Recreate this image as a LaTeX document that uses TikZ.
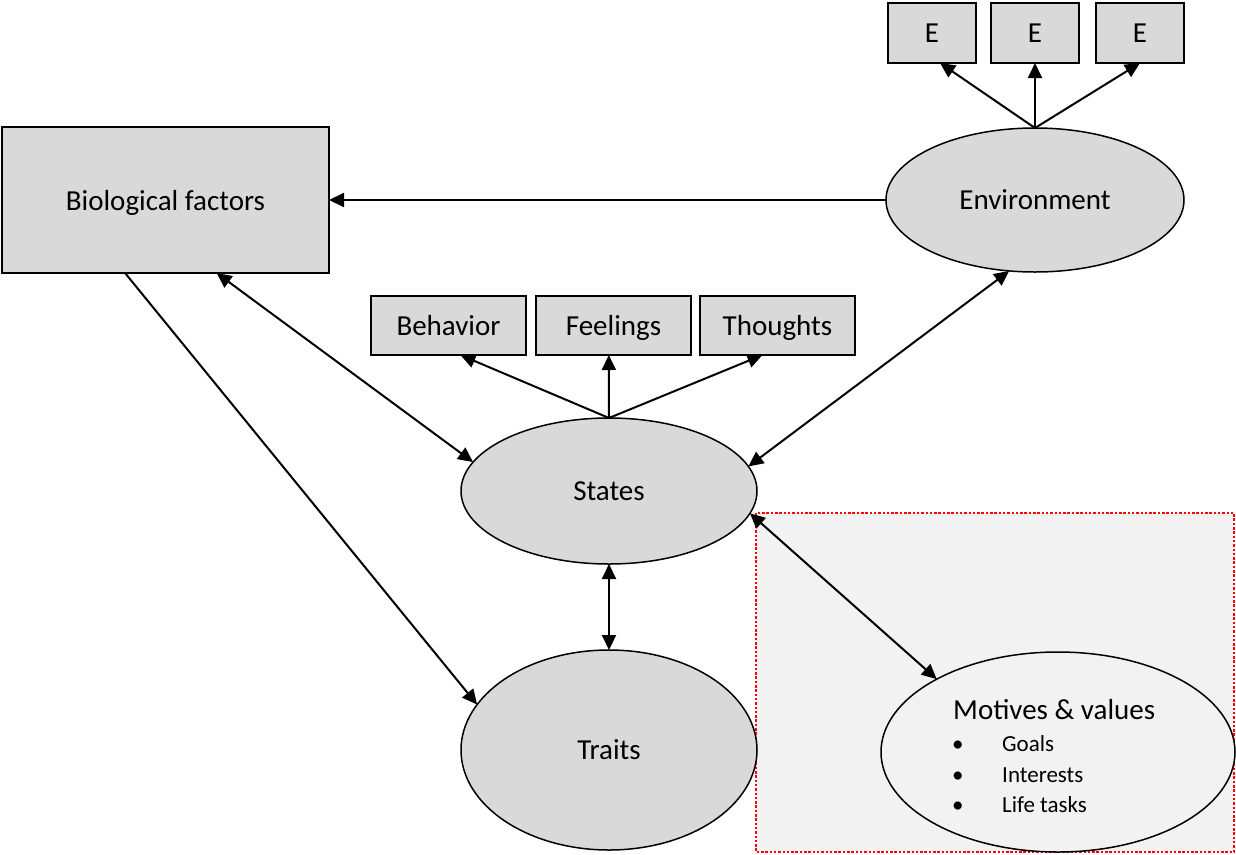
\documentclass[tikz,border=0pt]{standalone}
\usepackage{fontspec}
\setmainfont{Carlito}
\usetikzlibrary{arrows.meta,shapes.geometric,calc}
\definecolor{boxgray}{HTML}{D9D9D9}
\definecolor{panelgray}{HTML}{F2F2F2}
\definecolor{dotred}{HTML}{FF0000}
\begin{document}
\begin{tikzpicture}[x=1pt,y=-1pt,
  font=\fontsize{29}{35}\selectfont,
  graybox/.style={draw=black,line width=1.5pt,fill=boxgray,rectangle,inner sep=0pt,outer sep=0pt,text depth=0pt},
  grayoval/.style={draw=black,line width=1.5pt,fill=boxgray,ellipse,inner sep=0pt,outer sep=0pt,text depth=0pt},
  link/.style={line width=2pt,-{Triangle[length=15pt,width=14pt]}},
  dlink/.style={line width=2pt,{Triangle[length=15pt,width=14pt]}-{Triangle[length=15pt,width=14pt]}},
  itemtext/.style={font=\fontsize{23}{28}\selectfont,anchor=base west,inner sep=0pt}
]
\useasboundingbox (0,0) rectangle (1236,854);

% shaded panel around the motives
\draw[dotred,line width=2.5pt,dash pattern=on 2.5pt off 1.8pt,fill=panelgray] (756,513) rectangle (1234,852);

% environment and its indicators
\node[grayoval,minimum width=298pt,minimum height=144pt] (env) at (1035,200) {Environment};
\node[graybox,minimum width=88pt,minimum height=60pt] (e1) at (932,33) {E};
\node[graybox,minimum width=88pt,minimum height=60pt] (e2) at (1035,33) {E};
\node[graybox,minimum width=88pt,minimum height=60pt] (e3) at (1140,33) {E};

% biological factors
\node[graybox,minimum width=327pt,minimum height=146pt] (bio) at (165.5,200) {Biological factors};

% states and their expressions
\node[grayoval,minimum width=296pt,minimum height=146pt] (states) at (609,491) {States};
\node[graybox,minimum width=155pt,minimum height=59pt] (beh) at (448.5,325.5) {Behavior};
\node[graybox,minimum width=155pt,minimum height=59pt] (feel) at (613.5,325.5) {Feelings};
\node[graybox,minimum width=155pt,minimum height=59pt] (thou) at (777.5,325.5) {Thoughts};

% traits
\node[grayoval,minimum width=296pt,minimum height=200pt] (traits) at (609,750) {Traits};

% motives and values
\node[draw=black,line width=1.5pt,fill=panelgray,ellipse,inner sep=0pt,outer sep=0pt,
      minimum width=354pt,minimum height=200pt] (mot) at (1058,752) {};
\node[anchor=base west,inner sep=0pt] (mottitle) at (953,719) {Motives \& values};
\node[itemtext] (b1) at (952,751) {•};
\node[itemtext] (b2) at (952,782) {•};
\node[itemtext] (b3) at (952,812) {•};
\node[itemtext] (goals) at (1002,751) {Goals};
\node[itemtext] (inter) at (1002,782) {Interests};
\node[itemtext] (life) at (1002,812) {Life tasks};

% connectors
\draw[link] (env.north) -- (e1.-75);
\draw[link] (env.north) -- (e2.south);
\draw[link] (env.north) -- (e3.south);
\draw[link] (env.west) -- (bio.east);
\draw[link] (states.north) -- (beh.-68.7);
\draw[link] (states.north) -- (feel.261.3);
\draw[link] (states.north) -- (thou.243.8);
\draw[link] (bio.241) -- (traits.161.4);
\draw[dlink] (bio.305.7) -- (states.168);
\draw[dlink] (env.250.6) -- (states.10);
\draw[dlink] (states.south) -- (traits.north);
\draw[dlink] (states.-9) -- (mot.149.3);
\end{tikzpicture}
\end{document}
